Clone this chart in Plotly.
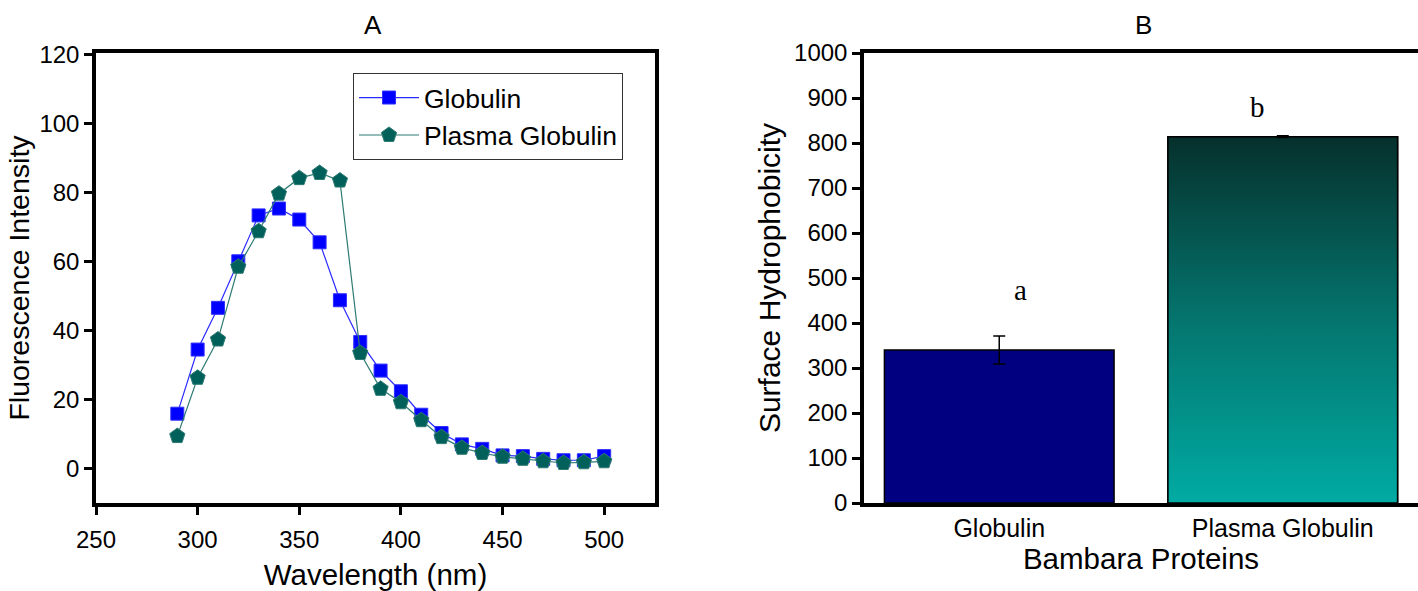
import plotly.graph_objects as go

# ---- Data ----
wavelength = [290, 300, 310, 320, 330, 340, 350, 360, 370, 380, 390, 400,
              410, 420, 430, 440, 450, 460, 470, 480, 490, 500]
globulin = [15.9, 34.5, 46.6, 60.1, 73.4, 75.4, 72.2, 65.6, 48.8, 36.7, 28.4, 22.4,
            15.6, 10.3, 7.0, 5.7, 3.8, 3.6, 2.8, 2.4, 2.4, 3.6]
plasma_globulin = [9.4, 26.3, 37.4, 58.5, 68.8, 79.7, 84.2, 85.7, 83.5, 33.5, 23.1, 19.2,
                   14.0, 9.1, 6.0, 4.5, 3.4, 2.8, 2.1, 1.6, 1.8, 2.1]

proteins = ["Globulin", "Plasma Globulin"]
hydrophobicity = [340, 814]
hydro_err = [31, 2]
letters = ["a", "b"]
letter_y = [473, 880]
letter_dx = [0.075, -0.09]

FONT = "Liberation Sans, Arial, sans-serif"
W, H = 1418, 591
BAR_W = 0.81

fig = go.Figure()

# ---- Panel A ----
fig.add_trace(go.Scatter(
    x=wavelength, y=globulin, name="Globulin", mode="lines+markers",
    line=dict(color="#2b2bff", width=1.2),
    marker=dict(symbol="square", size=13, color="#0000ff", line=dict(color="#3030ff", width=1)),
    xaxis="x", yaxis="y"))
fig.add_trace(go.Scatter(
    x=wavelength, y=plasma_globulin, name="Plasma Globulin", mode="lines+markers",
    line=dict(color="#2d7a73", width=1.2),
    marker=dict(symbol="pentagon", size=16, color="#02605a", line=dict(color="#2d7a73", width=1)),
    xaxis="x", yaxis="y"))

# ---- Panel B ----
bar_x = list(range(len(proteins)))
fig.add_trace(go.Bar(
    x=bar_x, y=hydrophobicity, width=BAR_W, showlegend=False,
    marker=dict(color=["#000080", "#01706a"], line=dict(color="black", width=1.5)),
    xaxis="x2", yaxis="y2"))

# gradient overlay for the second bar (derived from its data value)
i = 1
x0, x1 = bar_x[i] - BAR_W / 2, bar_x[i] + BAR_W / 2
fig.add_trace(go.Scatter(
    x=[x0, x1, x1, x0, x0], y=[0, 0, hydrophobicity[i], hydrophobicity[i], 0],
    mode="lines", fill="toself", showlegend=False, hoverinfo="skip",
    line=dict(color="black", width=1.5),
    fillgradient=dict(type="vertical",
                      colorscale=[[0, "#00aba3"], [0.5, "#04756e"], [1, "#06302c"]]),
    xaxis="x2", yaxis="y2"))

# error bars
fig.add_trace(go.Scatter(
    x=bar_x, y=hydrophobicity, mode="markers", showlegend=False,
    marker=dict(size=1, color="rgba(0,0,0,0)"),
    error_y=dict(type="data", array=hydro_err, color="black", thickness=1.5, width=6),
    xaxis="x2", yaxis="y2"))

for k in range(len(proteins)):
    fig.add_annotation(x=bar_x[k] + letter_dx[k], y=letter_y[k], text=letters[k],
                       showarrow=False, xref="x2", yref="y2",
                       font=dict(family="Liberation Serif, Times New Roman, serif", size=29, color="black"))

axis_common = dict(showline=True, linecolor="black", linewidth=3.5, mirror=True,
                   ticks="outside", ticklen=8, tickwidth=3, tickcolor="black",
                   showgrid=False, zeroline=False, automargin=False,
                   tickfont=dict(family=FONT, size=24, color="black"))

fig.update_layout(
    width=W, height=H,
    margin=dict(l=0, r=0, t=53, b=88, autoexpand=False),
    paper_bgcolor="white", plot_bgcolor="white",
    font=dict(family=FONT, color="black"),
    xaxis=dict(domain=[96 / W, 655 / W], range=[250, 525], tickvals=[250, 300, 350, 400, 450, 500],
               ticklabelstandoff=4,
               title=dict(text="Wavelength (nm)", font=dict(size=29.5), standoff=14), **axis_common),
    yaxis=dict(domain=[0, 1], range=[-10, 120.5], tickvals=[0, 20, 40, 60, 80, 100, 120],
               title=dict(text="Fluorescence Intensity", font=dict(size=28.5), standoff=2), **axis_common),
    xaxis2=dict(domain=[864 / W, 1.0], range=[-0.477, 1.477], tickvals=bar_x, ticktext=proteins,
                anchor="y2",
                title=dict(text="Bambara Proteins", font=dict(size=29.5), standoff=8),
                **{**axis_common, "ticks": "", "tickfont": dict(family=FONT, size=25, color="black")}),
    yaxis2=dict(domain=[0, 1], range=[0, 1000], tickvals=list(range(0, 1001, 100)), anchor="x2",
                title=dict(text="Surface Hydrophobicity", font=dict(size=30), standoff=6), **axis_common),
    legend=dict(x=353 / W, y=0.956, xref="paper", xanchor="left", yanchor="top",
                bgcolor="white", bordercolor="#333333", borderwidth=1,
                font=dict(family=FONT, size=26.5, color="black"),
                tracegroupgap=0, itemwidth=60),
)
fig.add_annotation(text="A", x=373 / W, xref="paper", y=1 + 28 / 450, yref="paper",
                   xanchor="center", yanchor="middle",
                   showarrow=False, font=dict(family=FONT, size=26, color="black"))
fig.add_annotation(text="B", x=1143 / W, xref="paper", y=1 + 28 / 450, yref="paper",
                   xanchor="center", yanchor="middle",
                   showarrow=False, font=dict(family=FONT, size=26, color="black"))

fig.write_html("out.html", config={"displayModeBar": False},
               post_script="document.body.style.margin='0';")
